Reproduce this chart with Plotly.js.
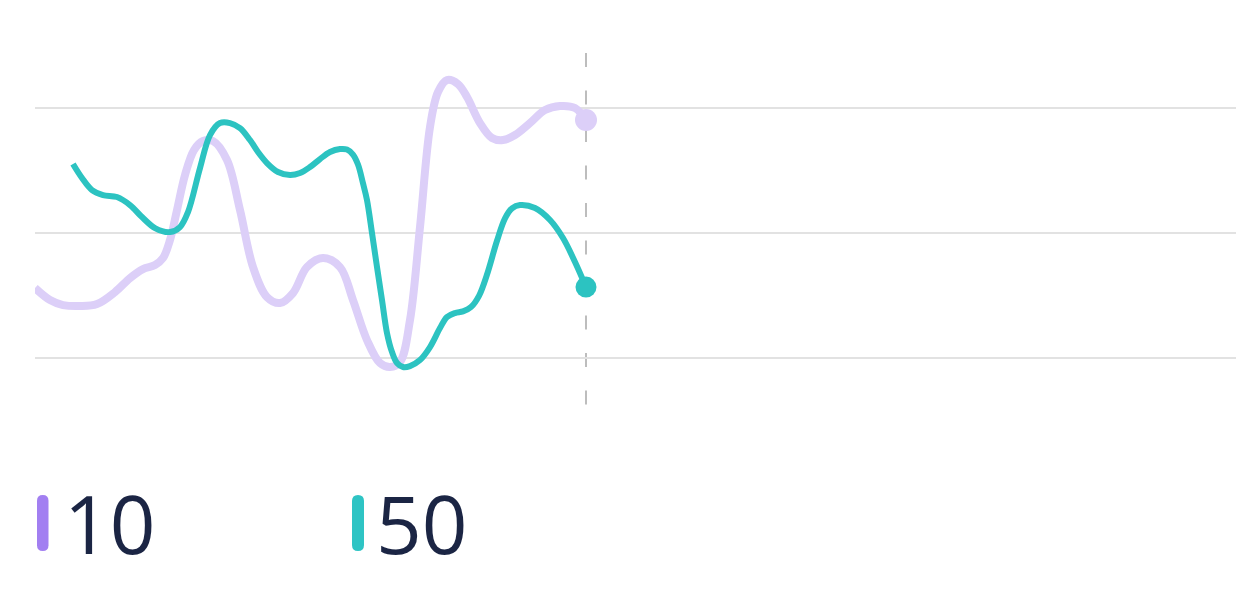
<!DOCTYPE html>
<html>
<head>
<meta charset="utf-8">
<script src="https://cdn.plot.ly/plotly-3.0.1.min.js"></script>
<style>
  html, body { margin: 0; padding: 0; background: #ffffff; }
  #chart { width: 1236px; height: 602px; }
</style>
</head>
<body>
<div id="chart"></div>
<script>
// ---- data ----
const seriesNames = ["10", "50"];

const purpleX = [0.0, 1.5, 2.8, 4.5, 6.2, 8.0, 9.5, 10.8, 12.0, 12.8, 13.5, 14.2, 15.0, 15.9, 16.8, 17.8,
  19.2, 20.5, 21.8, 23.2, 24.5, 25.8, 27.2, 28.8, 30.5, 31.8, 33.2, 34.5, 35.5, 36.5, 37.5,
  38.5, 39.5, 40.3, 41.2, 42.3, 43.2, 44.5, 45.7, 46.8, 48.0, 49.5, 51.0, 52.5, 54.0, 55.1];
const purpleY = [15.62, 14.66, 14.26, 14.18, 14.34, 15.30, 16.42, 17.14, 17.46, 18.02, 19.46, 21.86, 24.66, 26.66, 27.38, 27.38,
  25.86, 21.86, 17.30, 14.90, 14.42, 15.22, 17.30, 18.02, 17.30, 14.66, 11.46, 9.62, 9.30, 9.70, 13.06,
  20.50, 28.50, 31.30, 32.26, 31.94, 30.90, 28.82, 27.62, 27.46, 27.86, 28.82, 29.86, 30.18, 30.02, 29.06];

const tealX = [3.8, 4.7, 5.7, 6.8, 8.2, 9.5, 10.7, 12.0, 13.5, 14.5, 15.3, 16.5, 17.5, 18.5, 19.5,
  20.5, 21.5, 22.3, 23.2, 24.3, 25.5, 26.5, 27.5, 28.5, 29.5, 30.5, 31.2, 31.8, 32.3, 32.8,
  33.2, 33.7, 34.2, 34.7, 35.2, 35.7, 36.2, 36.8, 37.5, 38.5, 39.5, 40.5, 41.2, 42.0, 42.8,
  43.6, 44.4, 45.2, 46.2, 47.0, 47.7, 48.5, 50.0, 51.5, 52.8, 54.0, 55.1];
const tealY = [25.54, 24.42, 23.46, 23.06, 22.90, 22.26, 21.30, 20.42, 20.10, 20.50, 21.70, 25.22, 27.86, 28.82, 28.82,
  28.42, 27.46, 26.50, 25.62, 24.90, 24.66, 24.82, 25.30, 25.94, 26.50, 26.74, 26.70, 26.30, 25.50, 24.00,
  22.66, 20.02, 17.30, 14.66, 12.02, 10.50, 9.62, 9.30, 9.38, 9.86, 10.90, 12.42, 13.30, 13.62, 13.75,
  14.10, 15.00, 16.70, 19.40, 21.20, 22.00, 22.26, 22.02, 21.06, 19.62, 17.70, 15.70];

const gridVals = [10, 20, 30];

// ---- styles ----
const purpleLine = "#dccff8";
const purpleKey = "#a27ff1";
const tealLine = "#2cc3c1";
const tealKey = "#2ec4c4";
const textColor = "#1b2544";

// plot box in pixels (for placing the custom legend)
const M = { l: 35, r: 0, t: 50, b: 197 };
const W = 1236, H = 602;
const pw = W - M.l - M.r, ph = H - M.t - M.b;
const px2paperX = px => (px - M.l) / pw;
const px2paperY = py => (H - M.b - py) / ph;

function pill(x0, x1, y0, y1, color) {
  const r = (x1 - x0) / 2;
  const X = px2paperX, Y = px2paperY;
  const cx = (x0 + x1) / 2;
  const path = `M ${X(x0)} ${Y(y0 + r)} Q ${X(x0)} ${Y(y0)} ${X(cx)} ${Y(y0)} Q ${X(x1)} ${Y(y0)} ${X(x1)} ${Y(y0 + r)} ` +
               `L ${X(x1)} ${Y(y1 - r)} Q ${X(x1)} ${Y(y1)} ${X(cx)} ${Y(y1)} Q ${X(x0)} ${Y(y1)} ${X(x0)} ${Y(y1 - r)} Z`;
  return { type: "path", xref: "paper", yref: "paper", path: path, fillcolor: color, line: { width: 0 }, layer: "above" };
}

const lastP = purpleX.length - 1, lastT = tealX.length - 1;

const traces = [
  { x: purpleX, y: purpleY, type: "scatter", mode: "lines", name: seriesNames[0],
    line: { color: purpleLine, width: 8, shape: "spline", smoothing: 1 }, hoverinfo: "skip" },
  { x: tealX, y: tealY, type: "scatter", mode: "lines", name: seriesNames[1],
    line: { color: tealLine, width: 6, shape: "spline", smoothing: 1 }, hoverinfo: "skip" },
  { x: [purpleX[lastP]], y: [purpleY[lastP]], type: "scatter", mode: "markers",
    marker: { color: purpleLine, size: 22 }, hoverinfo: "skip" },
  { x: [tealX[lastT]], y: [tealY[lastT]], type: "scatter", mode: "markers",
    marker: { color: tealLine, size: 21 }, hoverinfo: "skip" }
];

const layout = {
  width: W, height: H,
  margin: M,
  paper_bgcolor: "#ffffff", plot_bgcolor: "#ffffff",
  showlegend: false,
  xaxis: { range: [0, 120.1], showgrid: false, zeroline: false, showticklabels: false, ticks: "", showline: false, fixedrange: true },
  yaxis: { range: [6.264, 34.664], tickvals: gridVals, showgrid: true, gridcolor: "#e2e2e2", gridwidth: 2,
           zeroline: false, showticklabels: false, ticks: "", showline: false, fixedrange: true },
  shapes: [
    { type: "line", xref: "x", yref: "paper", x0: purpleX[lastP], x1: purpleX[lastP],
      y0: px2paperY(53), y1: px2paperY(406),
      line: { color: "#bdbdbd", width: 2, dash: "14px,23.5px" }, layer: "below" },
    pill(37, 48.5, 495, 551, purpleKey),
    pill(352, 364, 495, 551, tealKey)
  ],
  annotations: [
    { xref: "paper", yref: "paper", x: px2paperX(62), y: px2paperY(522), xanchor: "left", yanchor: "middle",
      text: seriesNames[0], showarrow: false, font: { family: "Open Sans", size: 80, color: textColor } },
    { xref: "paper", yref: "paper", x: px2paperX(374), y: px2paperY(522), xanchor: "left", yanchor: "middle",
      text: seriesNames[1], showarrow: false, font: { family: "Open Sans", size: 80, color: textColor } }
  ]
};

Plotly.newPlot("chart", traces, layout, { staticPlot: true, displayModeBar: false });
</script>
</body>
</html>
